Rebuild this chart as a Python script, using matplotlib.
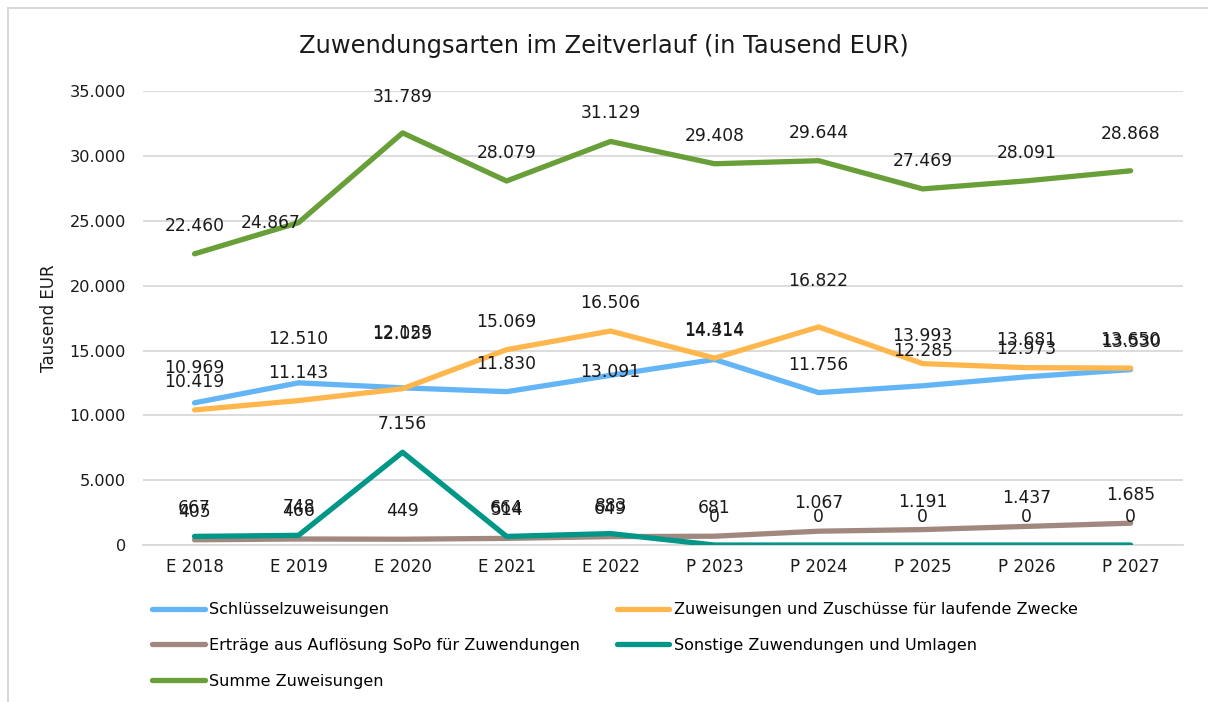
import matplotlib
matplotlib.use("Agg")
import matplotlib.pyplot as plt
from matplotlib.patches import Rectangle
from matplotlib.ticker import FuncFormatter

plt.rcParams['font.family'] = ['DejaVu Sans']

categories = ["E 2018", "E 2019", "E 2020", "E 2021", "E 2022",
              "P 2023", "P 2024", "P 2025", "P 2026", "P 2027"]
schluessel = [10969, 12510, 12125, 11830, 13091, 14314, 11756, 12285, 12973, 13530]
zuweisungen_lfd = [10419, 11143, 12059, 15069, 16506, 14414, 16822, 13993, 13681, 13650]
ertraege_sopo = [405, 466, 449, 514, 649, 681, 1067, 1191, 1437, 1685]
sonstige = [667, 748, 7156, 664, 883, 0, 0, 0, 0, 0]
summe = [22460, 24867, 31789, 28079, 31129, 29408, 29644, 27469, 28091, 28868]

series = [
    ("Schlüsselzuweisungen", schluessel, "#64B5F6"),
    ("Zuweisungen und Zuschüsse für laufende Zwecke", zuweisungen_lfd, "#FFB74D"),
    ("Erträge aus Auflösung SoPo für Zuwendungen", ertraege_sopo, "#A1887F"),
    ("Sonstige Zuwendungen und Umlagen", sonstige, "#009688"),
    ("Summe Zuweisungen", summe, "#689F38"),
]

# label placement tweaks (pixels, dx, dy upward) relative to default position
label_shift = {
    ("Summe Zuweisungen", 1): (-28, -28),
    ("Summe Zuweisungen", 2): (0, 8),
    ("Summe Zuweisungen", 9): (0, 9),
    ("Schlüsselzuweisungen", 0): (0, 7),
    ("Schlüsselzuweisungen", 1): (0, 16),
    ("Schlüsselzuweisungen", 2): (0, 27),
    ("Zuweisungen und Zuschüsse für laufende Zwecke", 2): (0, 27),
    ("Schlüsselzuweisungen", 4): (0, -25),
    ("Zuweisungen und Zuschüsse für laufende Zwecke", 6): (0, 18),
    ("Schlüsselzuweisungen", 7): (0, 7),
}

def de_fmt(v):
    return f"{v:,.0f}".replace(",", ".")

fig = plt.figure(figsize=(12.08, 7.02), dpi=100)
ax = fig.add_axes([0.118, 0.2236, 0.861, 0.6464])

PX = 72 / 100.0
x = list(range(len(categories)))
lines = {}
for name, vals, col in series:
    ln, = ax.plot(x, vals, color=col, lw=3.8, solid_capstyle='round', label=name, zorder=3)
    lines[name] = ln
    for xi, v in zip(x, vals):
        dx, dy = label_shift.get((name, xi), (0, 0))
        ax.annotate(de_fmt(v), (xi, v), xytext=(dx * PX, (28 + dy) * PX),
                    textcoords='offset points',
                    ha='center', va='center', fontsize=12.3, color='#1a1a1a', zorder=4)

ax.set_xlim(-0.5, len(categories) - 0.5)
ax.set_ylim(0, 35000)
ax.set_yticks(range(0, 35001, 5000))
ax.yaxis.set_major_formatter(FuncFormatter(lambda v, p: de_fmt(v)))
ax.set_xticks(x)
ax.set_xticklabels(categories)
ax.grid(axis='y', color='#D9D9D9', lw=1.3, zorder=0)
for s in ['top', 'right', 'left']:
    ax.spines[s].set_visible(False)
ax.spines['bottom'].set_color('#D9D9D9')
ax.spines['bottom'].set_linewidth(1.3)
ax.tick_params(axis='x', length=0, labelsize=12, colors='#1a1a1a', pad=9)
ax.tick_params(axis='y', length=0, labelsize=11.6, colors='#1a1a1a', pad=12)
ax.set_ylabel("Tausend EUR", fontsize=12, color='#1a1a1a', labelpad=8)

fig.text(0.5, 0.935, "Zuwendungsarten im Zeitverlauf (in Tausend EUR)",
         ha='center', va='center', fontsize=17.4, color='#1a1a1a')

order = ["Schlüsselzuweisungen", "Erträge aus Auflösung SoPo für Zuwendungen",
         "Summe Zuweisungen", "Zuweisungen und Zuschüsse für laufende Zwecke",
         "Sonstige Zuwendungen und Umlagen"]
fig.legend([lines[n] for n in order], order, ncol=2, loc='upper left',
           bbox_to_anchor=(0.1258, 0.142), frameon=False, fontsize=11.5,
           handlelength=3.3, handletextpad=0.28, labelspacing=1.3,
           columnspacing=2.3, borderpad=0, borderaxespad=0)

fig.patches.append(Rectangle((0.0066, -0.01), 1.0, 0.998, transform=fig.transFigure,
                             fill=False, edgecolor='#D9D9D9', lw=1.5))

fig.savefig("out.png", dpi=100, facecolor='white')
